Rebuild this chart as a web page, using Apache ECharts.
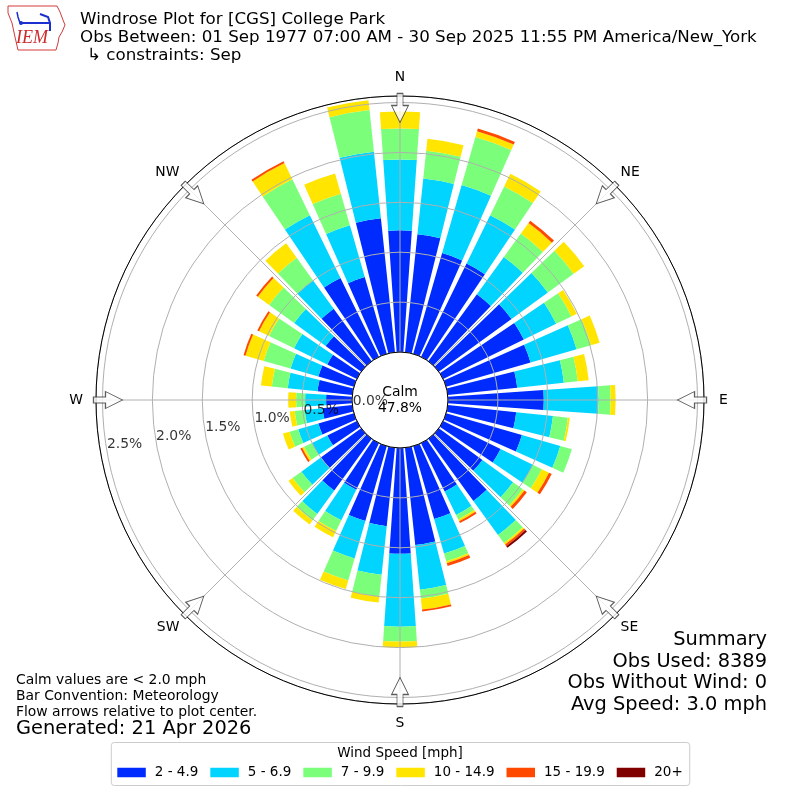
<!DOCTYPE html>
<html><head><meta charset="utf-8">
<script src="https://cdn.jsdelivr.net/npm/echarts@6/dist/echarts.min.js"></script>
<style>html,body{margin:0;padding:0;background:#fff}#c{width:800px;height:800px}</style>
</head><body><div id="c"></div>
<script>
// ---------- data ----------
const directions = [0,10,20,30,40,50,60,70,80,90,100,110,120,130,140,150,160,170,180,190,200,210,220,230,240,250,260,270,280,290,300,310,320,330,340,350];
const speedBins = ['2 - 4.9','5 - 6.9','7 - 9.9','10 - 14.9','15 - 19.9','20+'];
const binColors = ['#002bff','#00d4ff','#7bff7b','#ffe500','#ff4900','#800000'];
// percent of observations per direction bin
const speed2to5   = [1.22,1.19,1.05,1.04,0.83,0.90,0.90,0.88,0.70,0.96,0.69,0.79,0.64,0.54,0.77,0.54,0.76,0.98,1.06,0.79,0.78,0.52,0.64,0.50,0.33,0.37,0.30,0.26,0.35,0.37,0.33,0.44,0.65,0.88,0.80,1.35];
const speed5to7   = [0.71,0.56,0.71,0.54,0.46,0.45,0.36,0.48,0.47,0.55,0.37,0.40,0.36,0.38,0.42,0.26,0.36,0.45,0.73,0.49,0.39,0.34,0.29,0.24,0.17,0.21,0.18,0.21,0.30,0.29,0.37,0.39,0.35,0.70,0.54,0.67];
const speed7to10  = [0.31,0.28,0.50,0.32,0.29,0.32,0.17,0.15,0.14,0.12,0.15,0.12,0.10,0.12,0.10,0.05,0.08,0.09,0.15,0.22,0.23,0.12,0.08,0.11,0.09,0.09,0.10,0.09,0.16,0.28,0.28,0.31,0.28,0.40,0.33,0.42];
const speed10to15 = [0.17,0.12,0.06,0.14,0.13,0.13,0.06,0.09,0.11,0.05,0.02,0.00,0.08,0.02,0.02,0.02,0.02,0.11,0.06,0.06,0.09,0.07,0.05,0.05,0.02,0.07,0.05,0.08,0.11,0.19,0.11,0.14,0.18,0.18,0.21,0.10];
const speed15to20 = [0,0,0.03,0,0.03,0,0,0,0,0,0,0,0.03,0.03,0.02,0.02,0.03,0.02,0,0,0,0,0,0,0.02,0,0,0,0,0.02,0.02,0.02,0,0.02,0,0];
const speed20plus = [0,0,0,0,0,0,0,0,0,0,0,0,0,0,0.02,0,0,0,0,0,0,0,0,0,0,0,0,0,0,0,0,0,0,0,0,0];
const binValues = [speed2to5, speed5to7, speed7to10, speed10to15, speed15to20, speed20plus];
const calmPct = 47.8;
const radiusMax = 2.565;
const radiusTicks = [0,0.5,1.0,1.5,2.0,2.5];
const radiusTickLabels = ['0.0%','0.5%','1.0%','1.5%','2.0%','2.5%'];
const compassLabels = ['N','NE','E','SE','S','SW','W','NW'];
const compassAngles = [0,45,90,135,180,225,270,315];
const titleLines = ['Windrose Plot for [CGS] College Park','Obs Between: 01 Sep 1977 07:00 AM - 30 Sep 2025 11:55 PM America/New_York','\u21b3 constraints: Sep'];
const noteLines = ['Calm values are < 2.0 mph','Bar Convention: Meteorology','Flow arrows relative to plot center.'];
const generatedText = 'Generated: 21 Apr 2026';
const summaryLines = ['Summary','Obs Used: 8389','Obs Without Wind: 0','Avg Speed: 3.0 mph'];
const legendTitle = 'Wind Speed [mph]';

// ---------- styling ----------
const FONT = "'DejaVu Sans', sans-serif";
const CX = 400, CY = 400, R0 = 48, R1 = 304;
const LABEL_ANGLE = 260;   // radius labels direction (deg clockwise from N)
const ARROW_R = 2.445;     // radial position of flow arrows
const compassStyleKey = ['n','d','e','d','s','d','w','d'];
const lab = {fontSize:13.9, color:'#000', fontFamily:FONT};

const chart = echarts.init(document.getElementById('c'), null, {renderer:'canvas'});

const barSeries = speedBins.map((name, i) => ({
  name, type:'bar', coordinateSystem:'polar', polarIndex:0, stack:'wind',
  data: binValues[i], barCategoryGap:'20%', silent:true, z:2,
  itemStyle:{color: binColors[i]}
}));

const textEl = (text, x, y, size, align, extra) => Object.assign({
  type:'text', x, y, silent:true, z:20,
  style:{text, fontFamily:FONT, fontSize:size, fill:'#000', align, verticalAlign:'middle'}
}, extra || {});

const graphics = [];
titleLines.forEach((t,i) => graphics.push(textEl(t, i===2 ? 87 : 80, [19.5,37.5,56][i], 16.7, 'left')));
noteLines.forEach((t,i) => graphics.push(textEl(t, 16, [680.5,696.5,712.5][i], 13.9, 'left')));
graphics.push(textEl(generatedText, 16, 729, 19.4, 'left'));
summaryLines.forEach((t,i) => graphics.push(textEl(t, 767, [640,661.7,683.3,705][i], 19.4, 'right')));
graphics.push(textEl(legendTitle, 400, 753, 13.5, 'center'));
// IEM logo
graphics.push({type:'polygon', silent:true, z:20, shape:{points:[[8,6],[57,6],[60,12],[63,20],[65,25],[62,32],[59,37],[58,43],[56,50],[18,50],[15,37],[12,23],[8,13]]}, style:{fill:'none', stroke:'#d23a3a', lineWidth:1}});
graphics.push({type:'line', silent:true, z:20, shape:{x1:20,y1:23,x2:50,y2:23}, style:{stroke:'#1a2fd0', lineWidth:2}});
graphics.push({type:'polyline', silent:true, z:20, shape:{points:[[20,23],[18,17],[17,12]]}, style:{stroke:'#1a2fd0', lineWidth:1.5, fill:'none'}});
graphics.push({type:'polyline', silent:true, z:20, shape:{points:[[40,14],[48,17],[50,23],[50,31]]}, style:{stroke:'#1a2fd0', lineWidth:2, fill:'none'}});
graphics.push({type:'circle', silent:true, z:20, shape:{cx:21,cy:23,r:2}, style:{fill:'#1a2fd0'}});
graphics.push({type:'text', silent:true, z:20, x:16, y:38, style:{text:'IEM', fontFamily:"'Liberation Serif', serif", fontStyle:'italic', fontSize:18, fill:'#cc2b2b', align:'left', verticalAlign:'middle'}});

const option = {
  animation:false,
  backgroundColor:'#fff',
  textStyle:{fontFamily:FONT},
  polar:[
    {center:[CX,CY], radius:[R0,R1]},
    {center:[CX,CY], radius:[R0,R1]}
  ],
  angleAxis:[
    {polarIndex:0, type:'category', data:directions.map(String), startAngle:95, clockwise:true,
     axisLine:{show:false}, axisTick:{show:false}, axisLabel:{show:false}, splitLine:{show:false}},
    {polarIndex:1, type:'value', min:0, max:360, interval:45, startAngle:90, clockwise:true, z:6,
     axisLine:{show:true, lineStyle:{color:'#000', width:1}},
     axisTick:{show:false},
     axisLabel:{show:true, margin:8, fontSize:13.9, color:'#000', fontFamily:FONT,
       formatter:(v) => { const k = compassAngles.indexOf(Math.round(v)); return k >= 0 ? '{' + compassStyleKey[k] + '|' + compassLabels[k] + '}' : ''; },
       rich:{
         n:Object.assign({padding:[0,0,4,0]}, lab),
         e:Object.assign({padding:[0,0,0,7]}, lab),
         s:Object.assign({padding:[4,0,0,0]}, lab),
         w:Object.assign({padding:[0,5,0,0]}, lab),
         d:Object.assign({}, lab)
       }},
     splitLine:{show:true, lineStyle:{color:'#b0b0b0', width:1}}}
  ],
  radiusAxis:[
    {polarIndex:0, type:'value', min:0, max:radiusMax,
     axisLine:{show:false}, axisTick:{show:false}, axisLabel:{show:false}, splitLine:{show:false}},
    {polarIndex:1, type:'value', min:0, max:radiusMax, interval:0.5, z:5,
     axisLine:{show:false}, axisTick:{show:false}, axisLabel:{show:false},
     splitLine:{show:true, lineStyle:{color:'#b0b0b0', width:1}}}
  ],
  legend:{
    data:speedBins, left:'center', top:742.5, orient:'horizontal',
    itemWidth:28.5, itemHeight:9.5, itemGap:12, icon:'rect',
    padding:[23,7,6,6], borderColor:'#cccccc', borderWidth:1, borderRadius:3,
    selectedMode:false,
    textStyle:{fontSize:13.5, color:'#000', fontFamily:FONT, padding:[0,0,0,4]}
  },
  graphic:{elements:graphics},
  series:[
    ...barSeries,
    {type:'pie', center:[CX,CY], radius:[0,R0-0.5], silent:true, z:1,
     data:[{name:'Calm', value:calmPct}], itemStyle:{color:'#fff'},
     label:{show:true, position:'center', formatter:'Calm\n' + calmPct.toFixed(1) + '%',
       fontSize:13.9, lineHeight:16, color:'#000', fontFamily:FONT},
     labelLine:{show:false}},
    {type:'scatter', coordinateSystem:'polar', polarIndex:1, silent:true, z:9,
     symbol:'path://M5.5,0L11.5,0L11.5,12L17,12L8.5,29L0,12L5.5,12Z', symbolSize:[17,29],
     data:compassAngles.map(a => ({value:[ARROW_R, a], symbolRotate:-a})),
     itemStyle:{color:'#fff', borderColor:'#333', borderWidth:1}},
    {type:'scatter', coordinateSystem:'polar', polarIndex:1, silent:true, z:9,
     symbolSize:0.1, itemStyle:{color:'rgba(0,0,0,0)'},
     data:radiusTicks.map((v,i) => ({value:[v, LABEL_ANGLE], label:{formatter:radiusTickLabels[i]}})),
     label:{show:true, position:[0,0], align:'left', verticalAlign:'bottom', fontSize:13.9, color:'#000', fontFamily:FONT}}
  ]
};
chart.setOption(option);
</script>
</body></html>
